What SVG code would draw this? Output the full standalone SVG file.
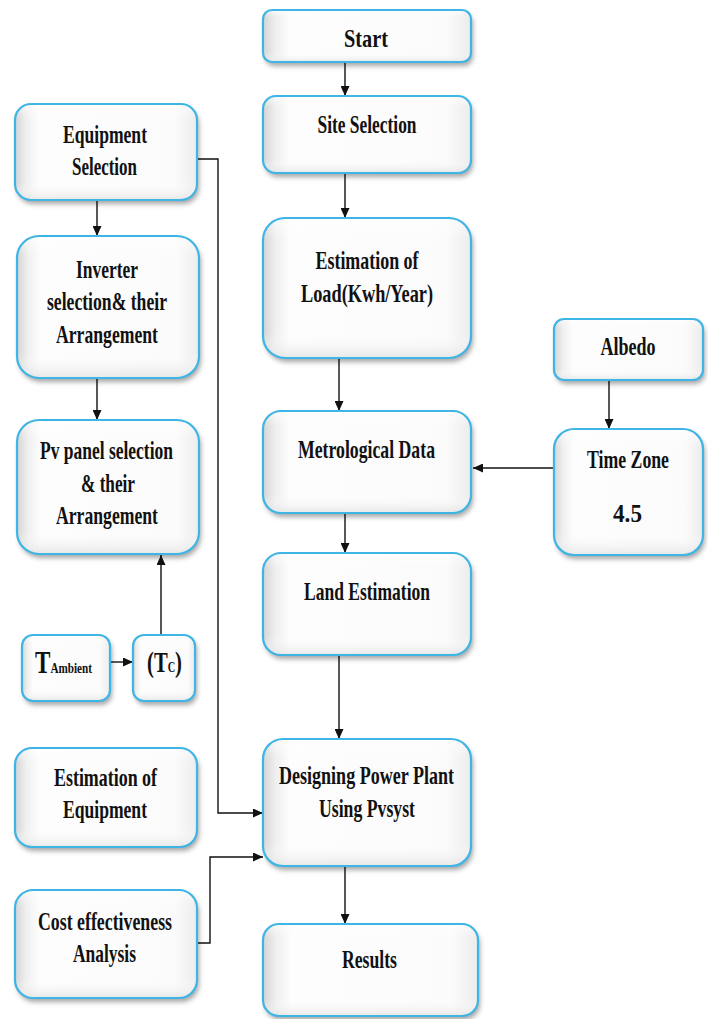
<svg xmlns="http://www.w3.org/2000/svg" width="708" height="1019" viewBox="0 0 708 1019">
<style>
.box{fill:url(#bh);filter:url(#sh);}
.ov{fill:url(#bv);stroke:#3fb5e6;stroke-width:2.2;}
.lbl{font-family:"Liberation Serif","Times New Roman",Times,serif;font-weight:bold;font-size:25px;fill:#111;text-anchor:middle;}
.sm{font-family:"Liberation Serif","Times New Roman",Times,serif;font-weight:bold;fill:#111;}
.c{fill:none;stroke:#111;stroke-width:1.4;}
</style>
<defs>
<linearGradient id="bh" x1="0" y1="0" x2="1" y2="0">
<stop offset="0" stop-color="#d4d4d4"/>
<stop offset="0.06" stop-color="#efefef"/>
<stop offset="0.13" stop-color="#fdfdfd"/>
<stop offset="0.88" stop-color="#fbfbfb"/>
<stop offset="1" stop-color="#ececec"/>
</linearGradient>
<linearGradient id="bv" x1="0" y1="0" x2="0" y2="1">
<stop offset="0" stop-color="#ffffff" stop-opacity="0.6"/>
<stop offset="0.15" stop-color="#ffffff" stop-opacity="0"/>
<stop offset="0.82" stop-color="#ffffff" stop-opacity="0"/>
<stop offset="1" stop-color="#e2e2e2" stop-opacity="0.8"/>
</linearGradient>
<filter id="sh" x="-10%" y="-10%" width="125%" height="130%">
<feDropShadow dx="2" dy="4" stdDeviation="2.5" flood-color="#000" flood-opacity="0.35"/>
</filter>
<marker id="ah" markerUnits="userSpaceOnUse" markerWidth="10" markerHeight="9" refX="10" refY="4.5" orient="auto">
<path d="M0,0 L10,4.5 L0,9 z" fill="#111"/>
</marker>
</defs>

<g id="connectors">
<line class="c" x1="345" y1="62" x2="345" y2="96" marker-end="url(#ah)"/>
<line class="c" x1="345" y1="173" x2="345" y2="218" marker-end="url(#ah)"/>
<line class="c" x1="339" y1="358" x2="339" y2="411" marker-end="url(#ah)"/>
<line class="c" x1="345" y1="513" x2="345" y2="553" marker-end="url(#ah)"/>
<line class="c" x1="339" y1="655" x2="339" y2="739" marker-end="url(#ah)"/>
<line class="c" x1="345" y1="866" x2="345" y2="924" marker-end="url(#ah)"/>
<line class="c" x1="609" y1="380" x2="609" y2="429" marker-end="url(#ah)"/>
<line class="c" x1="554" y1="468" x2="473" y2="468" marker-end="url(#ah)"/>
<line class="c" x1="97" y1="200" x2="97" y2="236" marker-end="url(#ah)"/>
<line class="c" x1="97" y1="378" x2="97" y2="420" marker-end="url(#ah)"/>
<line class="c" x1="161" y1="635" x2="161" y2="555" marker-end="url(#ah)"/>
<line class="c" x1="110" y1="662" x2="133" y2="662" marker-end="url(#ah)"/>
<polyline class="c" points="197,159 218,159 218,813 263,813" marker-end="url(#ah)"/>
<polyline class="c" points="197,943 210,943 210,857 263,857" marker-end="url(#ah)"/>
</g>

<g id="start">
<rect class="box" x="263" y="10" width="208" height="52" rx="9"/>
<rect class="ov" x="263" y="10" width="208" height="52" rx="9"/>
<text class="lbl" x="366" y="47" textLength="44" lengthAdjust="spacingAndGlyphs">Start</text>
</g>
<g id="site-selection">
<rect class="box" x="263" y="96" width="208" height="77" rx="13"/>
<rect class="ov" x="263" y="96" width="208" height="77" rx="13"/>
<text class="lbl" x="367" y="133" textLength="99" lengthAdjust="spacingAndGlyphs">Site Selection</text>
</g>
<g id="estimation-load">
<rect class="box" x="263" y="218" width="208" height="140" rx="22"/>
<rect class="ov" x="263" y="218" width="208" height="140" rx="22"/>
<text class="lbl" x="367" y="269" textLength="103" lengthAdjust="spacingAndGlyphs">Estimation of</text>
<text class="lbl" x="367" y="302" textLength="132" lengthAdjust="spacingAndGlyphs">Load(Kwh/Year)</text>
</g>
<g id="metrological-data">
<rect class="box" x="263" y="411" width="208" height="102" rx="18"/>
<rect class="ov" x="263" y="411" width="208" height="102" rx="18"/>
<text class="lbl" x="366.5" y="458" textLength="137" lengthAdjust="spacingAndGlyphs">Metrological Data</text>
</g>
<g id="land-estimation">
<rect class="box" x="263" y="553" width="208" height="102" rx="18"/>
<rect class="ov" x="263" y="553" width="208" height="102" rx="18"/>
<text class="lbl" x="367" y="600" textLength="126" lengthAdjust="spacingAndGlyphs">Land Estimation</text>
</g>
<g id="designing">
<rect class="box" x="263" y="739" width="208" height="127" rx="20"/>
<rect class="ov" x="263" y="739" width="208" height="127" rx="20"/>
<text class="lbl" x="366.5" y="784" textLength="175" lengthAdjust="spacingAndGlyphs">Designing Power Plant</text>
<text class="lbl" x="367" y="817" textLength="96" lengthAdjust="spacingAndGlyphs">Using Pvsyst</text>
</g>
<g id="results">
<rect class="box" x="263" y="924" width="215" height="92" rx="16"/>
<rect class="ov" x="263" y="924" width="215" height="92" rx="16"/>
<text class="lbl" x="369.5" y="968" textLength="55" lengthAdjust="spacingAndGlyphs">Results</text>
</g>
<g id="equipment-selection">
<rect class="box" x="15" y="104" width="182" height="96" rx="16"/>
<rect class="ov" x="15" y="104" width="182" height="96" rx="16"/>
<text class="lbl" x="105" y="143" textLength="84" lengthAdjust="spacingAndGlyphs">Equipment</text>
<text class="lbl" x="104.5" y="175" textLength="65" lengthAdjust="spacingAndGlyphs">Selection</text>
</g>
<g id="inverter-selection">
<rect class="box" x="17" y="236" width="182" height="142" rx="22"/>
<rect class="ov" x="17" y="236" width="182" height="142" rx="22"/>
<text class="lbl" x="107" y="278" textLength="62" lengthAdjust="spacingAndGlyphs">Inverter</text>
<text class="lbl" x="107" y="310" textLength="120" lengthAdjust="spacingAndGlyphs">selection&amp; their</text>
<text class="lbl" x="107" y="343" textLength="102" lengthAdjust="spacingAndGlyphs">Arrangement</text>
</g>
<g id="pv-panel-selection">
<rect class="box" x="17" y="420" width="182" height="134" rx="22"/>
<rect class="ov" x="17" y="420" width="182" height="134" rx="22"/>
<text class="lbl" x="106.5" y="459" textLength="133" lengthAdjust="spacingAndGlyphs">Pv panel selection</text>
<text class="lbl" x="108" y="492" textLength="54" lengthAdjust="spacingAndGlyphs">&amp; their</text>
<text class="lbl" x="107" y="524" textLength="102" lengthAdjust="spacingAndGlyphs">Arrangement</text>
</g>
<g id="t-ambient">
<rect class="box" x="22" y="635" width="88" height="66" rx="11"/>
<rect class="ov" x="22" y="635" width="88" height="66" rx="11"/>
<text class="sm" x="35" y="673" textLength="57" lengthAdjust="spacingAndGlyphs"><tspan font-size="31">T</tspan><tspan font-size="15">Ambient</tspan></text>
</g>
<g id="t-cell">
<rect class="box" x="133" y="635" width="62" height="66" rx="11"/>
<rect class="ov" x="133" y="635" width="62" height="66" rx="11"/>
<text class="sm" x="147" y="672" textLength="35" lengthAdjust="spacingAndGlyphs"><tspan font-size="30">(T</tspan><tspan font-size="15">C</tspan><tspan font-size="30">)</tspan></text>
</g>
<g id="estimation-equipment">
<rect class="box" x="15" y="748" width="182" height="99" rx="17"/>
<rect class="ov" x="15" y="748" width="182" height="99" rx="17"/>
<text class="lbl" x="105.5" y="786" textLength="103" lengthAdjust="spacingAndGlyphs">Estimation of</text>
<text class="lbl" x="105" y="818" textLength="84" lengthAdjust="spacingAndGlyphs">Equipment</text>
</g>
<g id="cost-effectiveness">
<rect class="box" x="15" y="890" width="182" height="108" rx="18"/>
<rect class="ov" x="15" y="890" width="182" height="108" rx="18"/>
<text class="lbl" x="105" y="930" textLength="134" lengthAdjust="spacingAndGlyphs">Cost effectiveness</text>
<text class="lbl" x="104.5" y="962" textLength="63" lengthAdjust="spacingAndGlyphs">Analysis</text>
</g>
<g id="albedo">
<rect class="box" x="554" y="319" width="149" height="61" rx="10"/>
<rect class="ov" x="554" y="319" width="149" height="61" rx="10"/>
<text class="lbl" x="628" y="355" textLength="55" lengthAdjust="spacingAndGlyphs">Albedo</text>
</g>
<g id="time-zone">
<rect class="box" x="554" y="429" width="149" height="126" rx="20"/>
<rect class="ov" x="554" y="429" width="149" height="126" rx="20"/>
<text class="lbl" x="628" y="468" textLength="82" lengthAdjust="spacingAndGlyphs">Time Zone</text>
<text class="lbl" x="627.5" y="522" textLength="29" lengthAdjust="spacingAndGlyphs">4.5</text>
</g>
</svg>
